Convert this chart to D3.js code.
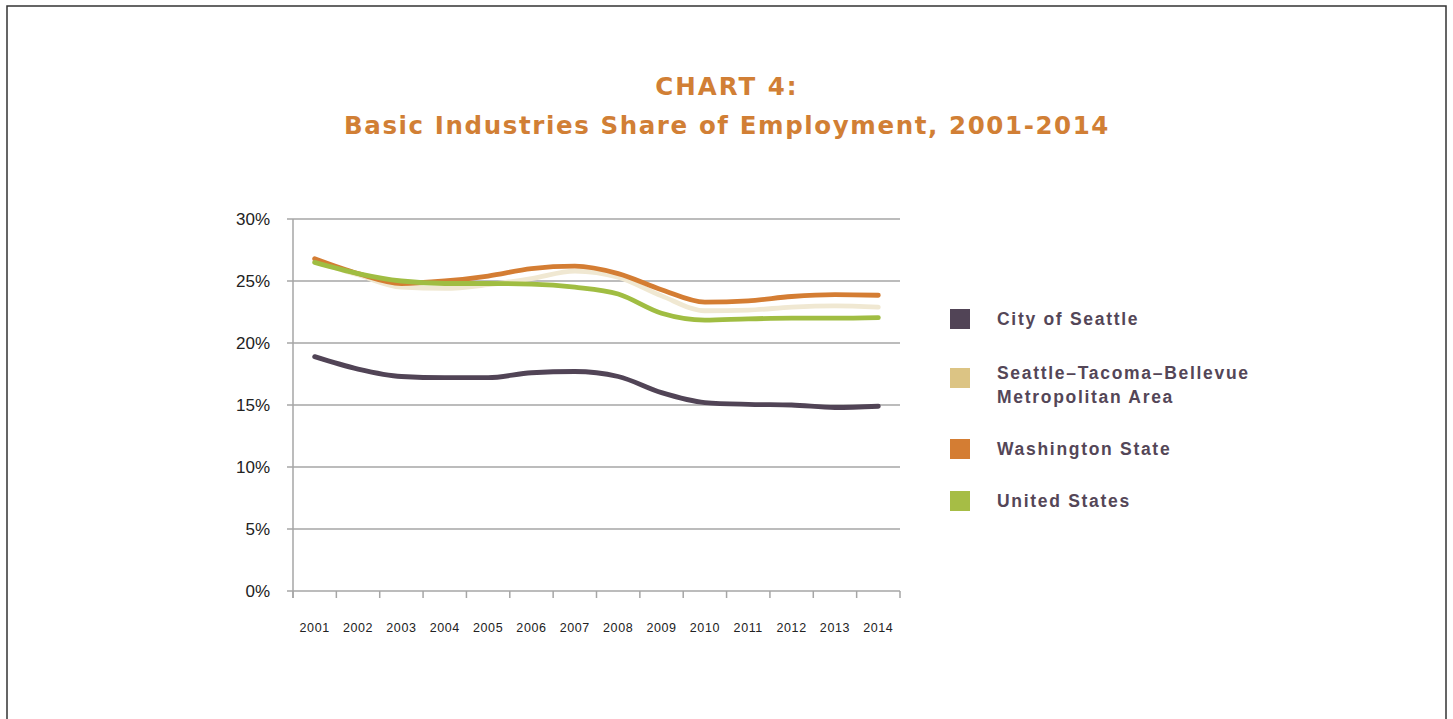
<!DOCTYPE html>
<html><head><meta charset="utf-8">
<script src="https://cdn.jsdelivr.net/npm/d3@7"></script>
<style>
html,body{margin:0;padding:0;background:#fff;}
svg{display:block;}
</style></head>
<body>
<svg id="chart" width="1453" height="719"></svg>
<script>
const years = [2001,2002,2003,2004,2005,2006,2007,2008,2009,2010,2011,2012,2013,2014];
const seattle = [18.9,17.9,17.3,17.2,17.2,17.6,17.7,17.3,16.0,15.2,15.05,15.0,14.8,14.9];
const metro   = [26.6,25.5,24.5,24.4,24.7,25.2,25.8,25.3,23.8,22.6,22.65,22.9,23.0,22.9];
const washington = [26.8,25.6,24.8,25.0,25.4,26.0,26.2,25.6,24.3,23.3,23.4,23.75,23.9,23.85];
const usa = [26.5,25.6,25.0,24.8,24.8,24.75,24.5,23.95,22.4,21.85,21.95,22.0,22.0,22.05];
const yTicks = [0,5,10,15,20,25,30];
const seriesNames = ["City of Seattle","Seattle\u2013Tacoma\u2013Bellevue|Metropolitan Area","Washington State","United States"];
const seriesColors = ["#514456","#f0e8d2","#d47d33","#a0bd42"];
const legendColors = ["#514456","#dcc484","#d47d33","#a6bd45"];

const svg = d3.select("#chart");
// frame
svg.append("rect").attr("x",7).attr("y",6).attr("width",1439).attr("height",730)
  .attr("fill","none").attr("stroke","#333").attr("stroke-width",1.5);

// title
const titleColor = "#d17f35";
svg.append("text").attr("x",727).attr("y",95).attr("text-anchor","middle")
  .attr("font-family","DejaVu Sans, Verdana, sans-serif").attr("font-weight","bold")
  .attr("font-size",24.5).attr("letter-spacing",2.0).attr("fill",titleColor).text("CHART 4:");
svg.append("text").attr("x",727).attr("y",134).attr("text-anchor","middle")
  .attr("font-family","DejaVu Sans, Verdana, sans-serif").attr("font-weight","bold")
  .attr("font-size",24.5).attr("letter-spacing",1.6).attr("fill",titleColor).text("Basic Industries Share of Employment, 2001-2014");

const x0 = 293, x1 = 900, yTop = 219, yBot = 591;
const x = d3.scaleBand().domain(years).range([x0,x1]);
const y = d3.scaleLinear().domain([0,30]).range([yBot,yTop]);

const g = svg.append("g");
// gridlines
g.selectAll("line.grid").data(yTicks).enter().append("line")
  .attr("x1",x0-6).attr("x2",x1).attr("y1",d=>y(d)).attr("y2",d=>y(d))
  .attr("stroke","#a6a6a6").attr("stroke-width",1.5);
// y axis line
g.append("line").attr("x1",x0).attr("x2",x0).attr("y1",yTop).attr("y2",yBot+7)
  .attr("stroke","#a6a6a6").attr("stroke-width",1.5);
// x ticks at band edges
const edges = years.map(d=>x(d)).concat([x1]);
g.selectAll("line.xt").data(edges).enter().append("line")
  .attr("x1",d=>d).attr("x2",d=>d).attr("y1",yBot).attr("y2",yBot+7)
  .attr("stroke","#a6a6a6").attr("stroke-width",1.5);
// y labels
g.selectAll("text.yl").data(yTicks).enter().append("text")
  .attr("x",270).attr("y",d=>y(d)+6).attr("text-anchor","end")
  .attr("font-family","Liberation Sans, Arial, sans-serif").attr("font-size",17)
  .attr("fill","#222").text(d=>d+"%");
// x labels
g.selectAll("text.xl").data(years).enter().append("text")
  .attr("x",d=>x(d)+x.bandwidth()/2).attr("y",632).attr("text-anchor","middle")
  .attr("font-family","Liberation Sans, Arial, sans-serif").attr("font-size",12.5)
  .attr("letter-spacing",0.6).attr("fill","#222").text(d=>d);

// lines
const line = d3.line().x((d,i)=>x(years[i])+x.bandwidth()/2).y(d=>y(d)).curve(d3.curveMonotoneX);
const drawOrder = [1,2,3,0];
const data = [seattle,metro,washington,usa];
drawOrder.forEach(i=>{
  g.append("path").datum(data[i]).attr("d",line).attr("fill","none")
   .attr("stroke",seriesColors[i]).attr("stroke-width",4.8)
   .attr("stroke-linejoin","round").attr("stroke-linecap","round");
});

// legend
const legY = [319,378,449,501];
const leg = svg.append("g");
seriesNames.forEach((n,i)=>{
  leg.append("rect").attr("x",950).attr("y",legY[i]-10).attr("width",20).attr("height",20)
    .attr("fill",legendColors[i]);
  const parts = n.split("|");
  const base = parts.length>1 ? legY[i]+1 : legY[i]+6;
  parts.forEach((p,j)=>{
    leg.append("text").attr("x",997).attr("y",base+j*24)
      .attr("font-family","Liberation Sans, Arial, sans-serif").attr("font-weight","bold")
      .attr("font-size",17.5).attr("letter-spacing",1.7).attr("fill","#544657").text(p);
  });
});
</script>
</body></html>
